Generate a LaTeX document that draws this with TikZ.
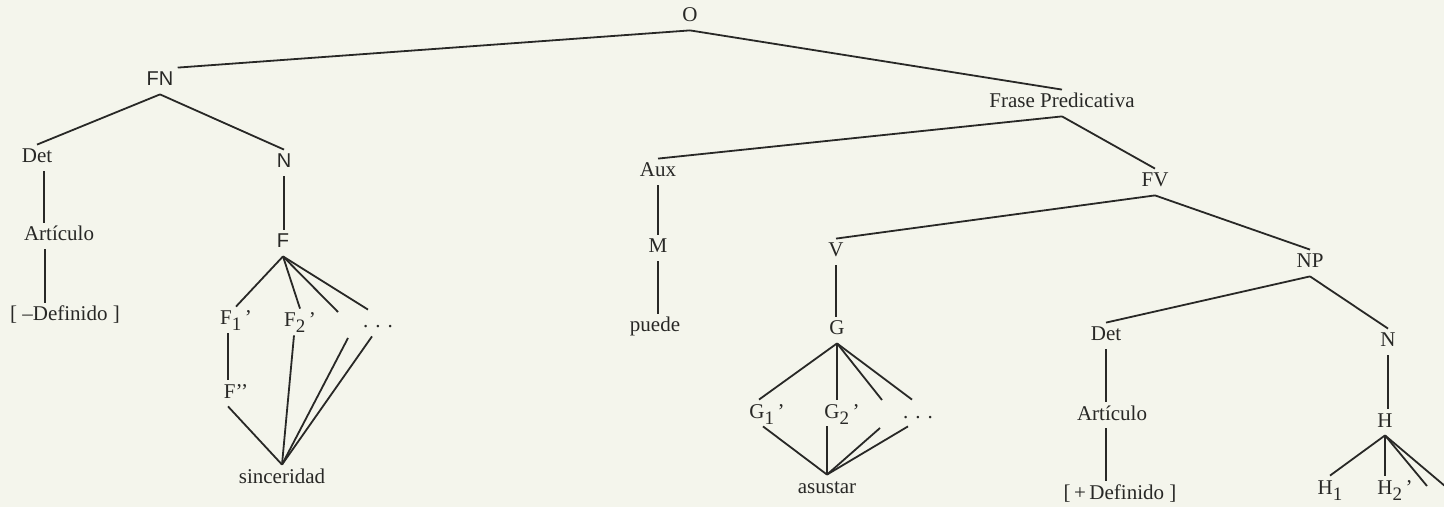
\documentclass[tikz,border=0pt]{standalone}
\usepackage{fontspec}
\setmainfont{Liberation Serif}
\newfontfamily\helv{Liberation Sans}
\usepackage{xcolor}
\definecolor{paper}{RGB}{244, 245, 236}
\definecolor{ink}{RGB}{ 40,  40,  38}
\usepackage{tikz}
\usetikzlibrary{calc}

\newcommand{\lowsub}[1]{\raisebox{-3pt}{\fontsize{9.5}{10}\selectfont #1}}

\tikzset{
  lbl/.style={inner sep=2pt, text height=7pt, text depth=2pt, text=ink,
    font=\fontsize{10.5}{12}\selectfont},
  sflbl/.style={lbl, font=\helv\fontsize{10}{12}\selectfont},
  edge/.style={draw=ink, line width=0.9pt}
}

\begin{document}
\begin{tikzpicture}[x=0.5pt, y=-0.5pt]
    \fill[paper] (0,0) rectangle (1444,507);
    \clip (0,0) rectangle (1444,507);

    % oracion y frase nominal
    \node[lbl]   (O)     at (690,17)  {O};
    \node[sflbl] (FN)    at (160,81)  {FN};
    \node[lbl]   (Det1)  at (37,158)  {Det};
    \node[sflbl] (N1)    at (284,163) {N};
    \node[lbl]   (Art1)  at (59,236)  {Artículo};
    \node[lbl]   (Def1)  at (65,316)  {[ --Definido ]};
    \node[sflbl] (F)     at (283,243) {F};
    \node[lbl]   (F1)    at (236,320) {F\lowsub{1}\,’};
    \node[lbl]   (F2)    at (300,322) {F\lowsub{2}\,’};
    \node[lbl]   (Fdots) at (378,323) {. . .};
    \node[lbl]   (F11)   at (236,393) {F’’};
    \node[lbl]   (sinc)  at (282,478) {sinceridad};
    \coordinate (F3a) at (338,312);
    \coordinate (F3b) at (348,338);

    % frase predicativa
    \node[lbl] (FP)    at (1062,103) {Frase Predicativa};
    \node[lbl] (Aux)   at (658,172)  {Aux};
    \node[lbl] (M)     at (658,248)  {M};
    \node[lbl] (puede) at (655,327)  {puede};
    \node[lbl] (FV)    at (1155,182) {FV};
    \node[lbl] (V)     at (836,252)  {V};
    \node[lbl] (G)     at (837,330)  {G};
    \node[lbl] (G1)    at (767,413)  {G\lowsub{1}\,’};
    \node[lbl] (G2)    at (842,413)  {G\lowsub{2}\,’};
    \node[lbl] (Gdots) at (918,413)  {. . .};
    \node[lbl] (asus)  at (827,488)  {asustar};
    \coordinate (G3a) at (882,400);
    \coordinate (G3b) at (880,428);

    \node[lbl] (NP)   at (1310,263) {NP};
    \node[lbl] (Det2) at (1106,336) {Det};
    \node[lbl] (N2)   at (1388,342) {N};
    \node[lbl] (Art2) at (1112,415) {Artículo};
    \node[lbl] (Def2) at (1120,494) {[\,+\,Definido ]};
    \node[lbl] (H)    at (1385,422) {H};
    \node[lbl] (H1)   at (1330,489) {H\lowsub{1}};
    \node[lbl] (H2)   at (1395,489) {H\lowsub{2}\,’};
    \coordinate (H3) at (1427,486);
    \coordinate (H4) at (1465,503);

    % ramas
    \draw[edge] (O.south) -- (FN.north east);
    \draw[edge] (O.south) -- (FP.north);
    \draw[edge] (FN.south) -- (Det1.north);
    \draw[edge] (FN.south) -- (N1.north);
    \draw[edge] ([xshift=3.5pt]Det1.south) -- ([xshift=3.5pt]Det1.south |- Art1.north);
    \draw[edge] ([xshift=4pt]Det1.south |- Art1.south) -- ([xshift=4pt]Det1.south |- Def1.north);
    \draw[edge] (N1.south) -- (N1.south |- F.north);
    \draw[edge] (F.south) -- (F1.north);
    \draw[edge] (F.south) -- (F2.north);
    \draw[edge] (F.south) -- (F3a);
    \draw[edge] (F.south) -- ([xshift=-5pt]Fdots.north);
    \draw[edge] ([xshift=-4pt]F1.south) -- ([xshift=-4pt]F11.north);
    \draw[edge] ([xshift=-4pt]F11.south) -- (sinc.north);
    \draw[edge] ([xshift=-3pt]F2.south) -- (sinc.north);
    \draw[edge] (F3b) -- (sinc.north);
    \draw[edge] ([xshift=-3pt]Fdots.south) -- (sinc.north);

    \draw[edge] (FP.south) -- (Aux.north);
    \draw[edge] (FP.south) -- (FV.north);
    \draw[edge] (Aux.south) -- (M.north);
    \draw[edge] (M.south) -- (M.south |- puede.north);
    \draw[edge] (FV.south) -- (V.north);
    \draw[edge] (FV.south) -- (NP.north);
    \draw[edge] (V.south) -- (V.south |- G.north);
    \draw[edge] (G.south) -- ([xshift=-4pt]G1.north);
    \draw[edge] (G.south) -- (G.south |- G2.north);
    \draw[edge] (G.south) -- (G3a);
    \draw[edge] (G.south) -- ([xshift=-3pt]Gdots.north);
    \draw[edge] ([xshift=-2pt]G1.south) -- (asus.north);
    \draw[edge] (asus.north |- G2.south) -- (asus.north);
    \draw[edge] (G3b) -- (asus.north);
    \draw[edge] ([xshift=-5pt]Gdots.south) -- (asus.north);

    \draw[edge] (NP.south) -- (Det2.north);
    \draw[edge] (NP.south) -- (N2.north);
    \draw[edge] (Det2.south) -- (Det2.south |- Art2.north);
    \draw[edge] (Det2.south |- Art2.south) -- (Det2.south |- Def2.north);
    \draw[edge] (N2.south) -- (N2.south |- H.north);
    \draw[edge] (H.south) -- (H1.north);
    \draw[edge] (H.south) -- (H.south |- H2.north);
    \draw[edge] (H.south) -- (H3);
    \draw[edge] (H.south) -- (H4);
  \end{tikzpicture}
\end{document}
